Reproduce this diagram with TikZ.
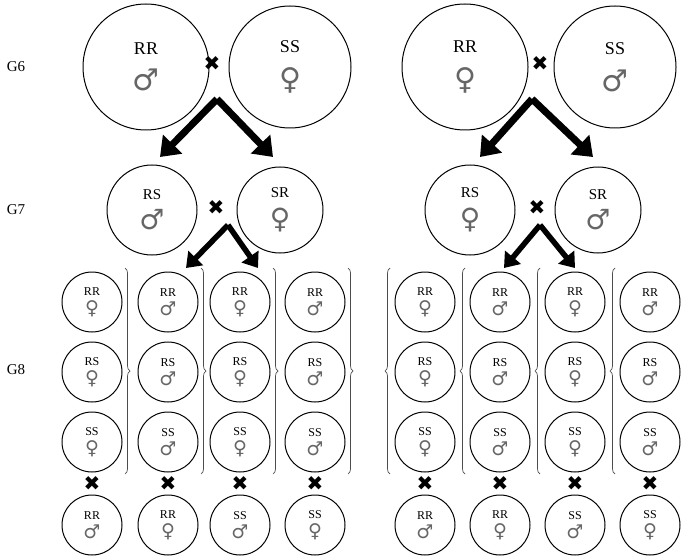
\documentclass[tikz,border=0pt]{standalone}
\usepackage{fontspec}
\setmainfont{Liberation Serif}
\newfontfamily\symf{DejaVu Sans}
\usetikzlibrary{decorations.pathreplacing,arrows.meta}
\begin{document}
\begin{tikzpicture}[x=1pt,y=-1pt,
  ind/.style={circle,draw,line width=1pt,minimum size=#1,inner sep=0pt,align=center},
  bigarr/.style={line width=7pt,-{Triangle[length=18pt,width=26pt]}},
  smarr/.style={line width=5.5pt,-{Triangle[length=14pt,width=20pt]}},
  crs/.style={font=\symf\fontsize{20}{20}\selectfont},
  gen/.style={font=\fontsize{15}{15}\selectfont},
  brc/.style={decorate,decoration={brace,amplitude=5pt},line width=0.7pt,draw=black!70}]
\useasboundingbox (0,0) rectangle (685,559);
\newcommand{\M}{{\symf\color{black!60}♂}}
\newcommand{\F}{{\symf\color{black!60}♀}}
% G labels
\node[gen] (g6) at (16,67) {G6};
\node[gen] (g7) at (16,210) {G7};
\node[gen] (g8) at (16,370) {G8};
% G6
\node[ind=126pt,font=\fontsize{18}{18}\selectfont] (a1) at (146,67) {RR\\[14pt]{\fontsize{30}{30}\selectfont\M}};
\node[ind=122pt,font=\fontsize{18}{18}\selectfont] (a2) at (290,67) {SS\\[14pt]{\fontsize{30}{30}\selectfont\F}};
\node[crs] (x1) at (212,64) {✖};
\node[ind=126pt,font=\fontsize{18}{18}\selectfont] (b1) at (465,67) {RR\\[14pt]{\fontsize{30}{30}\selectfont\F}};
\node[ind=122pt,font=\fontsize{18}{18}\selectfont] (b2) at (615,67) {SS\\[14pt]{\fontsize{30}{30}\selectfont\M}};
\node[crs] (x2) at (540,64) {✖};
\coordinate (t1) at (217,99); \coordinate (t2) at (532,99);
\node[ind=90pt,font=\fontsize{15}{15}\selectfont] (c1) at (152,210) {RS\\[9pt]{\fontsize{28}{28}\selectfont\M}};
\node[ind=86pt,font=\fontsize{15}{15}\selectfont] (c2) at (280,210) {SR\\[9pt]{\fontsize{28}{28}\selectfont\F}};
\node[crs] (x3) at (216,208) {✖};
\node[ind=90pt,font=\fontsize{15}{15}\selectfont] (d1) at (470,210) {RS\\[9pt]{\fontsize{28}{28}\selectfont\F}};
\node[ind=86pt,font=\fontsize{15}{15}\selectfont] (d2) at (598,210) {SR\\[9pt]{\fontsize{28}{28}\selectfont\M}};
\node[crs] (x4) at (537,208) {✖};
\draw[bigarr] (t1) -- (160,157);
\draw[bigarr] (t1) -- (273,157);
\draw[bigarr] (t2) -- (480,157);
\draw[bigarr] (t2) -- (593,157);
\coordinate (u1) at (228,225); \coordinate (u2) at (540,225);
\draw[smarr] (u1) -- (186,268);
\draw[smarr] (u1) -- (258,268);
\draw[smarr] (u2) -- (504,268);
\draw[smarr] (u2) -- (575,268);
% G8
\foreach \x/\s/\b/\bs/\nm in {92/\F/RR/\M/p1,168/\M/RR/\F/p2,240/\F/SS/\M/p3,315/\M/SS/\F/p4,425/\F/RR/\M/q1,500/\M/RR/\F/q2,575/\F/SS/\M/q3,650/\M/SS/\F/q4}{
  \node[ind=60pt,font=\fontsize{12}{12}\selectfont] (\nm r) at (\x,302) {RR\\[4pt]{\fontsize{19}{19}\selectfont\s}};
  \node[ind=60pt,font=\fontsize{12}{12}\selectfont] (\nm m) at (\x,372) {RS\\[4pt]{\fontsize{19}{19}\selectfont\s}};
  \node[ind=60pt,font=\fontsize{12}{12}\selectfont] (\nm s) at (\x,442) {SS\\[4pt]{\fontsize{19}{19}\selectfont\s}};
  \node[crs] (\nm x) at (\x,484) {✖};
  \node[ind=60pt,font=\fontsize{12}{12}\selectfont] (\nm b) at (\x,525) {\b\\[4pt]{\fontsize{19}{19}\selectfont\bs}};
}
\foreach \nm/\dx in {p1/33,p2/33,p3/33,p4/33}{
  \draw[brc] ([xshift=\dx pt]\nm r.north |- 0,268) -- ([xshift=\dx pt]\nm r.north |- 0,474);
}
\foreach \nm/\dx in {q1/-35,q2/-35,q3/-35,q4/-35}{
  \draw[brc] ([xshift=\dx pt]\nm r.north |- 0,474) -- ([xshift=\dx pt]\nm r.north |- 0,268);
}
\end{tikzpicture}
\end{document}
